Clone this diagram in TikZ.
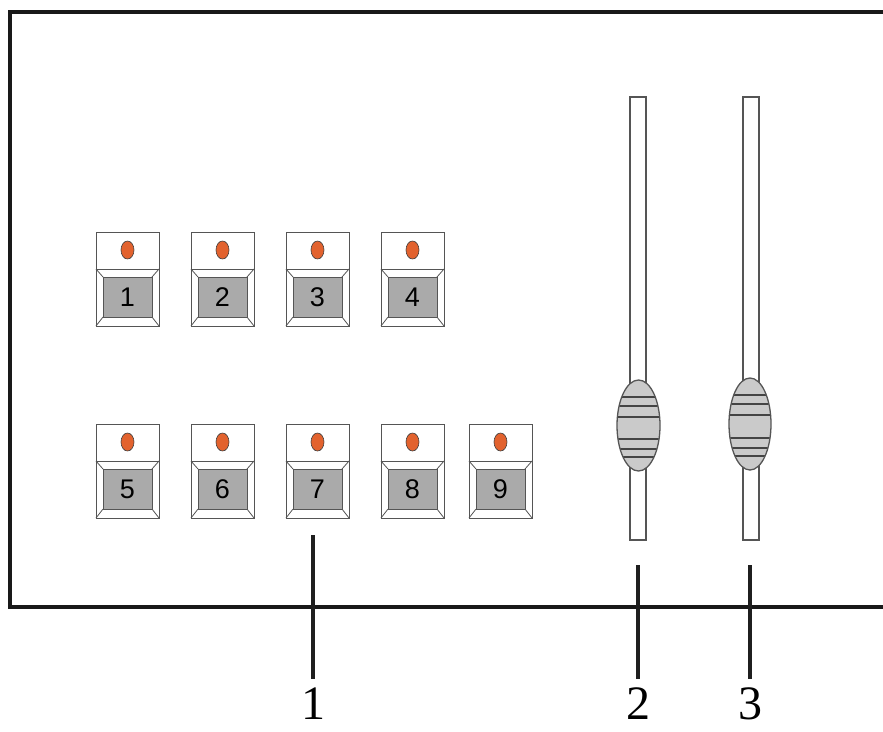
\documentclass[tikz,border=0pt]{standalone}
\usepackage{fontspec}
\setmainfont{Liberation Serif}
\newfontfamily\keyfont{Liberation Sans}
\usetikzlibrary{shapes.geometric}
\definecolor{ledorange}{RGB}{226,98,46}
\definecolor{keygray}{RGB}{170,170,170}
\definecolor{knobgray}{RGB}{202,202,202}
\definecolor{edgegray}{RGB}{85,85,85}
\tikzset{
  btnline/.style={draw=edgegray, line width=1pt},
  bevel/.style={draw=edgegray, line width=0.8pt},
  keycap/.style={draw=edgegray, line width=1pt, fill=keygray, inner sep=0pt, outer sep=0pt,
    minimum width=49, minimum height=40, anchor=north west, font=\keyfont\fontsize{27}{27}\selectfont},
  led/.style={ellipse, draw=edgegray!70!black, line width=0.6pt, fill=ledorange, inner sep=0pt,
    minimum width=13, minimum height=18},
  track/.style={draw=edgegray, line width=1.4pt, fill=white, inner sep=0pt, outer sep=0pt},
  knob/.style={ellipse, draw=edgegray, line width=1.3pt, fill=knobgray, inner sep=0pt, outer sep=0pt},
  stripe/.style={draw=edgegray!80!black, line width=1.2pt},
  panel/.style={draw=black!90, line width=3.2pt},
  callout/.style={draw=black!88, line width=3.2pt},
  calllabel/.style={font=\fontsize{48}{48}\selectfont, inner sep=0pt, anchor=base}
}
\begin{document}
\begin{tikzpicture}[x=1pt,y=-1pt]
\useasboundingbox (0,0) rectangle (883,731);
% panel
\coordinate (pTR) at (890,12);
\coordinate (pTL) at (10,12);
\coordinate (pBL) at (10,607);
\coordinate (pBR) at (890,607);
\draw[panel] (pTR) -- (pTL) -- (pBL) -- (pBR);
% buttons
\foreach \n/\x/\y in {1/96/232, 2/191/232, 3/286/232, 4/381/232,
                      5/96/424, 6/191/424, 7/286/424, 8/381/424, 9/469/424}{
  \draw[btnline,fill=white] (\x,\y) rectangle ++(63,94);
  \draw[btnline] (\x,\y+37) -- ++(63,0);
  \node[keycap] (k\n) at (\x+7,\y+45) {\n};
  \draw[bevel] (\x,\y+37) -- (k\n.north west);
  \draw[bevel] (\x+63,\y+37) -- (k\n.north east);
  \draw[bevel] (\x,\y+94) -- (k\n.south west);
  \draw[bevel] (\x+63,\y+94) -- (k\n.south east);
  \node[led] (led\n) at (\x+31.5,\y+18) {};
}
% slider tracks
\node[track, minimum width=16, minimum height=443] (t2) at (638,318.5) {};
\node[track, minimum width=16, minimum height=443] (t3) at (751,318.5) {};
% knobs
\node[knob, minimum width=43, minimum height=91] (kn2) at (638.5,425.5) {};
\node[knob, minimum width=42, minimum height=92] (kn3) at (750,424) {};
\begin{scope}
  \clip (638.5,425.5) ellipse [x radius=21, y radius=45];
  \foreach \yy in {397,406,417,439,449,457}{
    \draw[stripe] (612,\yy) -- (662,\yy);
  }
\end{scope}
\begin{scope}
  \clip (750,424) ellipse [x radius=20.5, y radius=45.5];
  \foreach \yy in {395,404,415,438,448,456}{
    \draw[stripe] (725,\yy) -- (775,\yy);
  }
\end{scope}
% callouts
\node[calllabel] (l1) at (313,719) {1};
\node[calllabel] (l2) at (638,719) {2};
\node[calllabel] (l3) at (750,719) {3};
\coordinate (c1) at (313,535);
\coordinate (c2) at (638,565);
\coordinate (c3) at (750,565);
\draw[callout] (c1) -- ([yshift=8pt]l1.north);
\draw[callout] (c2) -- ([yshift=8pt]l2.north);
\draw[callout] (c3) -- ([yshift=8pt]l3.north);
\end{tikzpicture}
\end{document}
